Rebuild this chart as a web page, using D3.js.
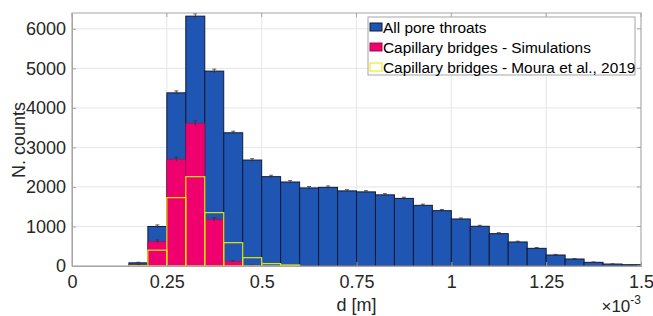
<!DOCTYPE html>
<html>
<head>
<meta charset="utf-8">
<script src="https://cdn.jsdelivr.net/npm/d3@7"></script>
<style>
  body { margin: 0; background: #fff; }
  svg { font-family: "Liberation Sans", Arial, sans-serif; }
</style>
</head>
<body>
<svg width="653" height="316"></svg>
<script>
// bin left edges (m), width 0.05e-3
const binStart = [0.15, 0.20, 0.25, 0.30, 0.35, 0.40, 0.45, 0.50, 0.55, 0.60, 0.65, 0.70, 0.75, 0.80,
                  0.85, 0.90, 0.95, 1.00, 1.05, 1.10, 1.15, 1.20, 1.25, 1.30, 1.35, 1.40, 1.45].map(v => v * 1e-3);
const binWidth = 0.05e-3;

const allThroats = [80, 1000, 4380, 6320, 4930, 3370, 2680, 2260, 2125, 1975, 1990, 1900, 1875, 1800,
                    1710, 1535, 1400, 1190, 1005, 818, 608, 447, 278, 177, 93, 50, 33];
const errAll = [15, 40, 50, 60, 50, 40, 35, 35, 35, 35, 35, 30, 30, 30,
                30, 30, 30, 25, 25, 25, 20, 20, 15, 10, 10, 5, 5];

const simBridges = [30, 620, 2700, 3610, 1180, 120, 20, 0, 0, 0, 0, 0, 0, 0,
                    0, 0, 0, 0, 0, 0, 0, 0, 0, 0, 0, 0, 0];
const errSim = [10, 40, 50, 60, 40, 15, 5, 0, 0, 0, 0, 0, 0, 0,
                0, 0, 0, 0, 0, 0, 0, 0, 0, 0, 0, 0, 0];

const mouraBridges = [10, 400, 1730, 2260, 1350, 590, 210, 60, 25, 0, 0, 0, 0, 0,
                      0, 0, 0, 0, 0, 0, 0, 0, 0, 0, 0, 0, 0];

const xTicks = [0, 0.25e-3, 0.5e-3, 0.75e-3, 1e-3, 1.25e-3, 1.5e-3];
const yTicks = [0, 1000, 2000, 3000, 4000, 5000, 6000];
const legendLabels = ["All pore throats", "Capillary bridges - Simulations", "Capillary bridges - Moura et al., 2019"];

const blue = "#1f55b3", pink = "#f0006e", yellow = "#e8e800";

const svg = d3.select("svg");
const margin = { left: 72, right: 12, top: 13, bottom: 50 };
const W = 653, H = 316;

const x = d3.scaleLinear().domain([0, 1.5e-3]).range([margin.left, W - margin.right]);
const y = d3.scaleLinear().domain([0, 6400]).range([H - margin.bottom, margin.top]);

// grid
svg.append("g").selectAll("line.gx").data(xTicks).join("line")
   .attr("x1", d => x(d)).attr("x2", d => x(d))
   .attr("y1", y(0)).attr("y2", y(6400))
   .attr("stroke", "#e6e6e6").attr("stroke-width", 1);
svg.append("g").selectAll("line.gy").data(yTicks).join("line")
   .attr("x1", x(0)).attr("x2", x(1.5e-3))
   .attr("y1", d => y(d)).attr("y2", d => y(d))
   .attr("stroke", "#e6e6e6").attr("stroke-width", 1);

const bins = binStart.map((b, i) => ({
    x0: b, x1: b + binWidth,
    all: allThroats[i], eAll: errAll[i],
    sim: simBridges[i], eSim: errSim[i],
    moura: mouraBridges[i]
}));

// all pore throats
svg.append("g").selectAll("rect").data(bins.filter(d => d.all > 0)).join("rect")
   .attr("x", d => x(d.x0)).attr("width", d => x(d.x1) - x(d.x0))
   .attr("y", d => y(d.all)).attr("height", d => y(0) - y(d.all))
   .attr("fill", blue).attr("stroke", "#111a33").attr("stroke-width", 1);

// simulations
svg.append("g").selectAll("rect").data(bins.filter(d => d.sim > 0)).join("rect")
   .attr("x", d => x(d.x0)).attr("width", d => x(d.x1) - x(d.x0))
   .attr("y", d => y(d.sim)).attr("height", d => y(0) - y(d.sim))
   .attr("fill", pink).attr("stroke", "#9a1050").attr("stroke-opacity", 0.5).attr("stroke-width", 1);

// error bars
const errG = svg.append("g").attr("stroke", "#333").attr("stroke-width", 0.8);
const drawErr = (val, err) => {
    errG.selectAll(null).data(bins.filter(d => d[val] > 0 && d[err] > 0)).join("line")
        .attr("x1", d => x((d.x0 + d.x1) / 2)).attr("x2", d => x((d.x0 + d.x1) / 2))
        .attr("y1", d => y(d[val] + d[err])).attr("y2", d => y(d[val] - d[err]));
    errG.selectAll(null).data(bins.filter(d => d[val] > 0 && d[err] > 0)).join("line")
        .attr("x1", d => x((d.x0 + d.x1) / 2) - 2).attr("x2", d => x((d.x0 + d.x1) / 2) + 2)
        .attr("y1", d => y(d[val] + d[err])).attr("y2", d => y(d[val] + d[err]));
};
drawErr("all", "eAll");
drawErr("sim", "eSim");

// Moura et al. outlines
svg.append("g").selectAll("rect").data(bins.filter(d => d.moura > 0)).join("rect")
   .attr("x", d => x(d.x0)).attr("width", d => x(d.x1) - x(d.x0))
   .attr("y", d => y(d.moura)).attr("height", d => y(0) - y(d.moura))
   .attr("fill", "none").attr("stroke", yellow).attr("stroke-width", 1.2);

// box
const axCol = "#a6a6a6";
svg.append("rect")
   .attr("x", x(0)).attr("y", y(6400))
   .attr("width", x(1.5e-3) - x(0)).attr("height", y(0) - y(6400))
   .attr("fill", "none").attr("stroke", axCol).attr("stroke-width", 1);

// axes
const xAxis = d3.axisBottom(x).tickValues(xTicks).tickSizeInner(-4).tickSizeOuter(0)
    .tickPadding(9).tickFormat(d => d3.format("~g")(+(d * 1e3).toFixed(3)));
const gx = svg.append("g").attr("transform", `translate(0,${y(0)})`).call(xAxis);
gx.select(".domain").attr("stroke", axCol);
gx.selectAll(".tick line").attr("stroke", axCol);
gx.selectAll("text").attr("font-size", 18).attr("fill", "#262626");

const yAxis = d3.axisLeft(y).tickValues(yTicks).tickSizeInner(-4).tickSizeOuter(0)
    .tickPadding(6).tickFormat(d3.format("d"));
const gy = svg.append("g").attr("transform", `translate(${x(0)},0)`).call(yAxis);
gy.select(".domain").attr("stroke", axCol);
gy.selectAll(".tick line").attr("stroke", axCol);
gy.selectAll("text").attr("font-size", 18).attr("fill", "#262626");

// top/right ticks
svg.append("g").selectAll("line").data(xTicks).join("line")
   .attr("x1", d => x(d)).attr("x2", d => x(d))
   .attr("y1", y(6400)).attr("y2", y(6400) + 4).attr("stroke", axCol);
svg.append("g").selectAll("line").data(yTicks).join("line")
   .attr("x1", x(1.5e-3)).attr("x2", x(1.5e-3) - 4)
   .attr("y1", d => y(d)).attr("y2", d => y(d)).attr("stroke", axCol);

// labels
svg.append("text").attr("x", (x(0) + x(1.5e-3)) / 2).attr("y", 311)
   .attr("text-anchor", "middle").attr("font-size", 18).attr("fill", "#262626").text("d [m]");
svg.append("text").attr("transform", `translate(25,140) rotate(-90)`)
   .attr("text-anchor", "middle").attr("font-size", 18).attr("fill", "#262626").text("N. counts");
const expo = svg.append("text").attr("x", x(1.5e-3)).attr("y", 312)
   .attr("text-anchor", "end").attr("font-size", 17).attr("fill", "#262626");
expo.append("tspan").text("\u00d710");
expo.append("tspan").attr("dy", -8).attr("font-size", 12).text("-3");

// legend
const lg = svg.append("g").attr("transform", "translate(368,17)");
lg.append("rect").attr("width", 267).attr("height", 58)
  .attr("fill", "#fff").attr("stroke", axCol).attr("stroke-width", 1);
const swFill = [blue, pink, "none"], swStroke = ["#111a33", "#9a1050", yellow];
const item = lg.selectAll("g").data(legendLabels).join("g")
  .attr("transform", (d, i) => `translate(2,${10 + i * 20})`);
item.append("rect").attr("x", 0).attr("y", -4).attr("width", 12).attr("height", 8)
  .attr("fill", (d, i) => swFill[i]).attr("stroke", (d, i) => swStroke[i]).attr("stroke-width", 1);
item.append("text").attr("x", 13).attr("y", 6).attr("font-size", 15.4).attr("fill", "#000").text(d => d);
</script>
</body>
</html>
